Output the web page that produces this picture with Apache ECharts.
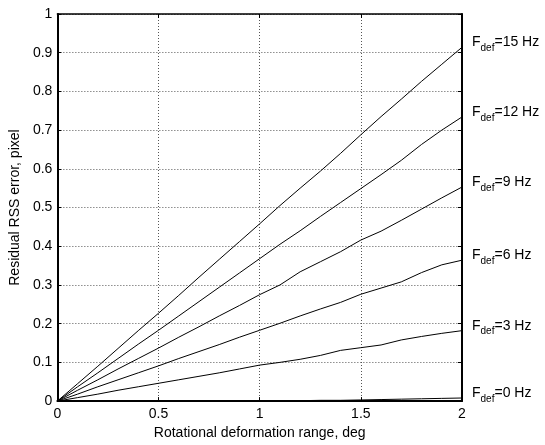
<!DOCTYPE html>
<html>
<head>
<meta charset="utf-8">
<script src="https://cdn.jsdelivr.net/npm/echarts@6/dist/echarts.min.js"></script>
<style>html,body{margin:0;padding:0;background:#fff}#c{width:545px;height:445px}</style>
</head>
<body>
<div id="c"></div>
<script>
const xValues = [0, 0.1, 0.2, 0.3, 0.4, 0.5, 0.6, 0.7, 0.8, 0.9, 1.0, 1.1, 1.2, 1.3, 1.4, 1.5, 1.6, 1.7, 1.8, 1.9, 2.0];
const f15 = [0, 0.045, 0.09, 0.136, 0.182, 0.227, 0.273, 0.32, 0.366, 0.412, 0.458, 0.505, 0.55, 0.594, 0.64, 0.688, 0.735, 0.78, 0.826, 0.87, 0.914];
const f12 = [0, 0.037, 0.073, 0.11, 0.147, 0.183, 0.22, 0.257, 0.294, 0.331, 0.368, 0.405, 0.44, 0.477, 0.513, 0.549, 0.585, 0.622, 0.663, 0.70, 0.734];
const f9  = [0, 0.028, 0.055, 0.083, 0.11, 0.137, 0.165, 0.192, 0.22, 0.247, 0.275, 0.30, 0.334, 0.36, 0.386, 0.416, 0.439, 0.467, 0.496, 0.525, 0.553];
const f6  = [0, 0.018, 0.037, 0.055, 0.073, 0.091, 0.11, 0.128, 0.146, 0.165, 0.183, 0.201, 0.22, 0.238, 0.255, 0.276, 0.292, 0.308, 0.332, 0.352, 0.364];
const f3  = [0, 0.009, 0.018, 0.028, 0.037, 0.046, 0.055, 0.064, 0.073, 0.083, 0.093, 0.10, 0.108, 0.118, 0.131, 0.138, 0.145, 0.158, 0.167, 0.175, 0.182];
const f0  = [0, 0, 0, 0, 0, 0, 0, 0, 0, 0, 0, 0.0005, 0.001, 0.002, 0.002, 0.003, 0.004, 0.005, 0.006, 0.007, 0.008];
const seriesNames = ['15', '12', '9', '6', '3', '0'];
const seriesData = [f15, f12, f9, f6, f3, f0];
const xTicks = [0, 0.5, 1, 1.5, 2];
const yTicks = [0, 0.1, 0.2, 0.3, 0.4, 0.5, 0.6, 0.7, 0.8, 0.9, 1];
const xLabel = 'Rotational deformation range, deg';
const yLabel = 'Residual RSS error, pixel';

const FONT = 'Liberation Sans, Arial, sans-serif';
const chart = echarts.init(document.getElementById('c'), null, {renderer: 'canvas'});

function axisCommon(show) {
  return {
    axisLine: {show: true, onZero: false, lineStyle: {color: '#000', width: 2}},
    axisTick: {show: true, inside: true, length: 4, lineStyle: {color: '#000', width: 1}},
    axisLabel: {show: show, color: '#000', fontSize: 14, fontFamily: FONT},
  };
}

const option = {
  backgroundColor: '#fff',
  animation: false,
  grid: {left: 55, right: 83, top: 14, bottom: 42, containLabel: false},
  xAxis: [
    Object.assign({
      type: 'value', min: 0, max: 2, interval: 0.5,
      name: xLabel, nameLocation: 'middle', nameGap: 24,
      nameTextStyle: {color: '#000', fontSize: 14, fontFamily: FONT},
      splitLine: {show: true, lineStyle: {color: '#555', type: [1, 2], width: 1}},
      position: 'bottom'
    }, axisCommon(true), {axisLabel: {color: '#000', fontSize: 14, fontFamily: FONT, margin: 6}}),
    Object.assign({
      type: 'value', min: 0, max: 2, interval: 0.5, position: 'top',
      splitLine: {show: false}
    }, axisCommon(false), {axisLine: {show: true, onZero: false, lineStyle: {color: '#000', width: 1.5}}})
  ],
  yAxis: [
    Object.assign({
      type: 'value', min: 0, max: 1, interval: 0.1,
      name: yLabel, nameLocation: 'middle', nameGap: 30,
      nameTextStyle: {color: '#000', fontSize: 14, fontFamily: FONT},
      splitLine: {show: true, lineStyle: {color: '#555', type: [1, 2], width: 1}},
      position: 'left'
    }, axisCommon(true), {axisLabel: {color: '#000', fontSize: 14, fontFamily: FONT, margin: 5}}),
    Object.assign({
      type: 'value', min: 0, max: 1, interval: 0.1, position: 'right',
      splitLine: {show: false}
    }, axisCommon(false))
  ],
  series: seriesData.map((d, i) => ({
    type: 'line',
    name: seriesNames[i],
    xAxisIndex: 0, yAxisIndex: 0,
    data: xValues.map((x, j) => [x, d[j]]),
    showSymbol: false, symbol: 'none',
    lineStyle: {color: '#000', width: 1},
    z: 3,
    endLabel: {
      show: true,
      distance: 10,
      offset: [0, -4],
      formatter: () => '{a|F}{b|def}{a|=' + seriesNames[i] + ' Hz}',
      rich: {
        a: {fontSize: 14, fontFamily: FONT, color: '#000', verticalAlign: 'top', lineHeight: 16},
        b: {fontSize: 10, fontFamily: FONT, color: '#000', verticalAlign: 'top', padding: [8, 0, 0, 0], lineHeight: 12}
      }
    }
  }))
};
chart.setOption(option);
</script>
</body>
</html>
